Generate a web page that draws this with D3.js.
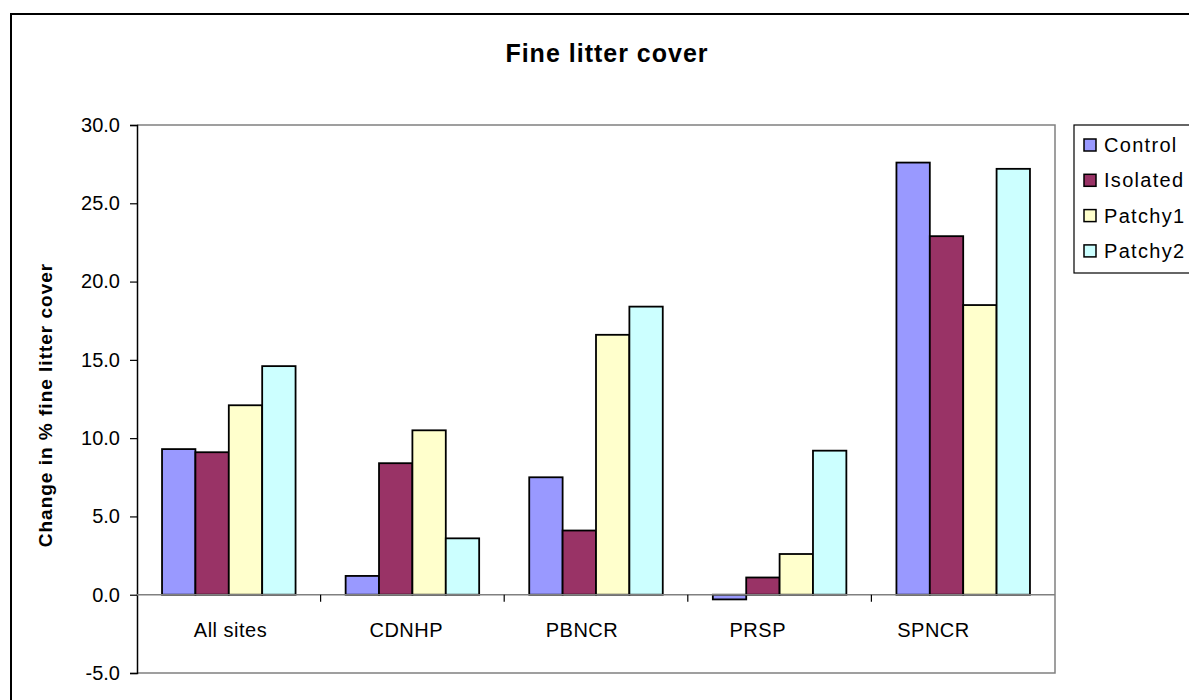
<!DOCTYPE html>
<html>
<head>
<meta charset="utf-8">
<script src="https://cdnjs.cloudflare.com/ajax/libs/d3/7.8.5/d3.min.js"></script>
<style>
  html, body { margin: 0; padding: 0; background: #fff; }
  svg { display: block; font-family: "Liberation Sans", Arial, sans-serif; }
</style>
</head>
<body>
<svg id="chart" width="1189" height="700"></svg>
<script>
// Sites (category axis) and treatment series
const categories = ["All sites", "CDNHP", "PBNCR", "PRSP", "SPNCR"];
const seriesNames = ["Control", "Isolated", "Patchy1", "Patchy2"];

// Change in % fine litter cover, one array per treatment, in site order
const control  = [9.3, 1.2, 7.5, -0.3, 27.6];
const isolated = [9.1, 8.4, 4.1, 1.1, 22.9];
const patchy1  = [12.1, 10.5, 16.6, 2.6, 18.5];
const patchy2  = [14.6, 3.6, 18.4, 9.2, 27.2];

const yTicks = [-5, 0, 5, 10, 15, 20, 25, 30];
const seriesColors = ["#9999FF", "#993366", "#FFFFCC", "#CCFFFF"];

const values = [control, isolated, patchy1, patchy2];
const rows = categories.map((c, i) => ({
  site: c,
  vals: seriesNames.map((s, j) => ({ series: s, value: values[j][i] }))
}));

const svg = d3.select("#chart");

const plot = { left: 137, right: 1055, top: 125, bottom: 673 };

// outer chart frame
svg.append("rect")
  .attr("x", 11).attr("y", 14)
  .attr("width", 1200).attr("height", 720)
  .attr("fill", "#fff").attr("stroke", "#000").attr("stroke-width", 2);

const x0 = d3.scaleBand().domain(categories).range([plot.left, plot.right]).padding(0);
const x1 = d3.scaleBand().domain(seriesNames).range([0, x0.bandwidth()])
  .paddingInner(0).paddingOuter(0.75);
// category labels sit on a slightly tighter spacing than the bar groups
const xLabel = d3.scalePoint().domain(categories).range([230, 933]);
const y = d3.scaleLinear().domain([-5, 30]).range([plot.bottom, plot.top]);
const color = d3.scaleOrdinal().domain(seriesNames).range(seriesColors);

// plot area border (top, right, bottom)
svg.append("path")
  .attr("d", `M${plot.left},${plot.top}H${plot.right}V${plot.bottom}H${plot.left}`)
  .attr("fill", "none").attr("stroke", "#808080").attr("stroke-width", 1.5);

// value axis (plain hyphen for negatives)
const yAxis = d3.axisLeft(y).tickValues(yTicks).tickFormat(d => d.toFixed(1)).tickSize(7).tickPadding(10);
const gy = svg.append("g").attr("transform", `translate(${plot.left},0)`).call(yAxis);
gy.select(".domain").attr("stroke", "#000").attr("stroke-width", 1.5);
gy.selectAll(".tick line").attr("stroke", "#000").attr("stroke-width", 1.2);
gy.selectAll(".tick text")
  .attr("font-family", "Liberation Sans, Arial, sans-serif")
  .attr("font-size", 20).attr("fill", "#000");

// bars
const groups = svg.append("g").selectAll("g").data(rows).join("g")
  .attr("transform", d => `translate(${x0(d.site)},0)`);
groups.selectAll("rect").data(d => d.vals).join("rect")
  .attr("x", d => x1(d.series))
  .attr("width", x1.bandwidth())
  .attr("y", d => y(Math.max(0, d.value)))
  .attr("height", d => Math.abs(y(d.value) - y(0)))
  .attr("fill", d => color(d.series))
  .attr("stroke", "#000").attr("stroke-width", 1.8);

// category axis line along zero, with tick marks between sites
svg.append("line")
  .attr("x1", plot.left).attr("x2", plot.right)
  .attr("y1", y(0)).attr("y2", y(0))
  .attr("stroke", "#808080").attr("stroke-width", 1.5);
svg.append("g").selectAll("line").data(categories.slice(1)).join("line")
  .attr("x1", d => x0(d)).attr("x2", d => x0(d))
  .attr("y1", y(0)).attr("y2", y(0) + 7)
  .attr("stroke", "#000").attr("stroke-width", 1.2);
const gx = svg.append("g").attr("transform", `translate(0,${y(0)})`)
  .call(d3.axisBottom(xLabel).tickSize(0).tickPadding(28));
gx.select(".domain").remove();
gx.selectAll(".tick text")
  .attr("font-family", "Liberation Sans, Arial, sans-serif")
  .attr("font-size", 20).attr("fill", "#000")
  .attr("letter-spacing", 0.5);

// title
svg.append("text")
  .attr("x", 607).attr("y", 62)
  .attr("text-anchor", "middle")
  .attr("font-size", 25).attr("font-weight", "bold")
  .attr("letter-spacing", 1)
  .text("Fine litter cover");

// y axis title
svg.append("text")
  .attr("transform", `translate(52,${(plot.top + plot.bottom) / 2 + 6}) rotate(-90)`)
  .attr("text-anchor", "middle")
  .attr("font-size", 19).attr("font-weight", "bold")
  .attr("letter-spacing", 1)
  .text("Change in % fine litter cover");

// legend
const legend = svg.append("g").attr("transform", "translate(1074,125)");
legend.append("rect")
  .attr("x", 0).attr("y", 0).attr("width", 140).attr("height", 148)
  .attr("fill", "#fff").attr("stroke", "#000").attr("stroke-width", 1.2);
const items = legend.selectAll("g.item").data(seriesNames).join("g")
  .attr("class", "item")
  .attr("transform", (d, i) => `translate(10,${20 + i * 35.3})`);
items.append("rect")
  .attr("x", 0).attr("y", -6).attr("width", 12).attr("height", 12)
  .attr("fill", d => color(d)).attr("stroke", "#000").attr("stroke-width", 1.5);
items.append("text")
  .attr("x", 20).attr("y", 7)
  .attr("font-size", 20)
  .attr("letter-spacing", 1.3)
  .text(d => d);
</script>
</body>
</html>
